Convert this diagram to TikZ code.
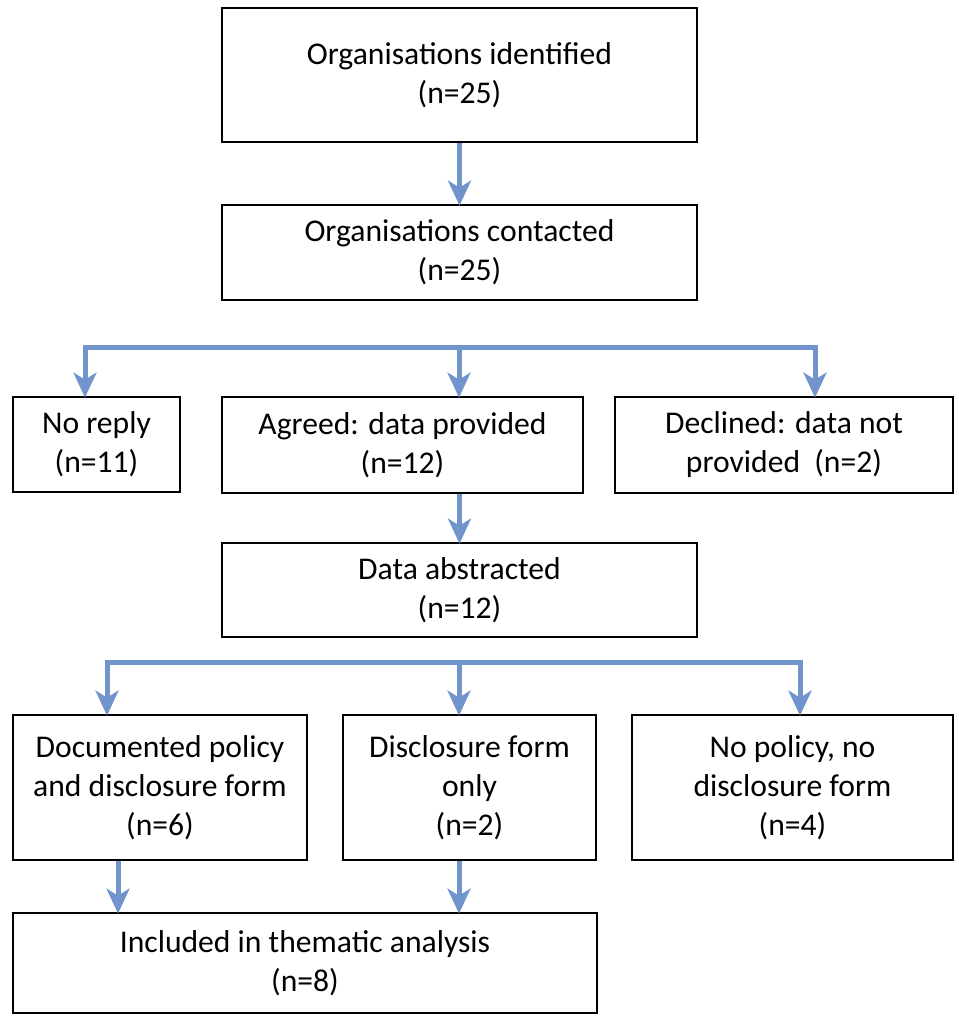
\documentclass[tikz,border=0pt]{standalone}
\usepackage{fontspec}
\setmainfont{Carlito}
\usetikzlibrary{arrows.meta}
\definecolor{flowblue}{RGB}{114,148,204}
\tikzset{
  box/.style={draw=black, line width=1.3pt, align=center, inner sep=2pt,
    font=\fontsize{18}{22.2}\selectfont},
  link/.style={flowblue, line width=0.1cm},
  arr/.style={link, -{Stealth[length=0.5cm, width=0.46cm, inset=0.14cm]}, shorten >=-1pt}
}
\begin{document}
\begin{tikzpicture}[x=0.02cm, y=-0.02cm]
\useasboundingbox (0,0) rectangle (959,1017);
\node[box, minimum width=9.5cm, minimum height=2.68cm] (ident) at (459.5,75) {Organisations identified\\(n=25)};
\node[box, minimum width=9.5cm, minimum height=1.9cm] (contact) at (459.5,252.5) {Organisations contacted\\(n=25)};
\node[box, minimum width=3.34cm, minimum height=1.9cm] (noreply) at (96.5,444.5) {No reply\\(n=11)};
\node[box, minimum width=7.22cm, minimum height=1.92cm] (agreed) at (402.5,445) {Agreed: data provided\\(n=12)};
\node[box, minimum width=6.76cm, minimum height=1.92cm] (declined) at (784,445) {Declined: data not\\provided~~(n=2)};
\node[box, minimum width=9.5cm, minimum height=1.88cm] (abstr) at (459.5,590) {Data abstracted\\(n=12)};
\node[box, minimum width=5.88cm, minimum height=2.9cm] (docpol) at (160,787.5) {Documented policy\\and disclosure form\\(n=6)};
\node[box, minimum width=5.06cm, minimum height=2.9cm] (discl) at (469.5,787.5) {Disclosure form\\only\\(n=2)};
\node[box, minimum width=6.42cm, minimum height=2.9cm] (nopol) at (792.5,787.5) {No policy, no\\disclosure form\\(n=4)};
\node[box, minimum width=11.68cm, minimum height=2cm] (incl) at (305,963) {Included in thematic analysis\\(n=8)};

\coordinate (bl) at (85,347);
\coordinate (bm) at (459,347);
\coordinate (br) at (815,347);
\coordinate (cl) at (107,662);
\coordinate (cm) at (459,662);
\coordinate (cr) at (800,662);
\coordinate (dl) at (118,860);

\draw[arr] (ident) -- (contact);
\draw[link] (bl) -- (br);
\draw[arr] ([yshift=1pt]bl) -- (bl |- noreply.north);
\draw[arr] (bm) -- (bm |- agreed.north);
\draw[arr] ([yshift=1pt]br) -- (br |- declined.north);
\draw[arr] (agreed.south -| abstr) -- (abstr);
\draw[link] (cl) -- (cr);
\draw[arr] ([yshift=1pt]cl) -- (cl |- docpol.north);
\draw[arr] (cm) -- (cm |- discl.north);
\draw[arr] ([yshift=1pt]cr) -- (cr |- nopol.north);
\draw[arr] (docpol.south -| dl) -- (dl |- incl.north);
\draw[arr] (discl.south -| cm) -- (cm |- incl.north);
\end{tikzpicture}
\end{document}
